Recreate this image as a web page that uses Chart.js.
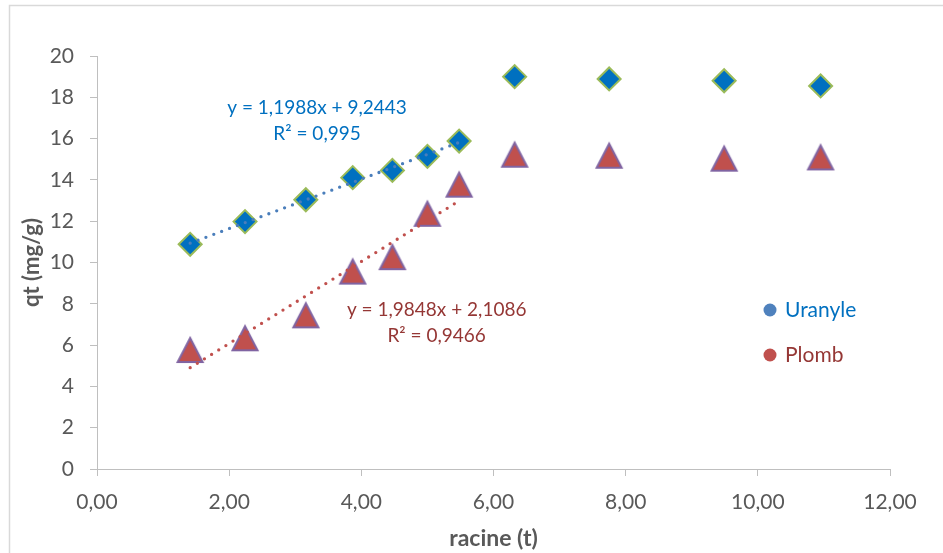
<!DOCTYPE html>
<html>
<head>
<meta charset="utf-8">
<script src="https://cdn.jsdelivr.net/npm/chart.js@4/dist/chart.umd.min.js"></script>
<style>
  html, body { margin: 0; padding: 0; background: #fff; overflow: hidden; }
  #wrap { position: relative; width: 943px; height: 553px; }
</style>
</head>
<body>
<div id="wrap"><canvas id="chart" width="943" height="553"></canvas></div>
<script>
// racine du temps (x) et qt mesuré
const racineT = [1.41, 2.24, 3.16, 3.87, 4.47, 5.00, 5.48, 6.32, 7.75, 9.49, 10.95];
const uranyle = [10.88, 11.98, 13.04, 14.11, 14.46, 15.14, 15.88, 19.0, 18.89, 18.8, 18.55];
const plomb = [5.76, 6.33, 7.44, 9.56, 10.26, 12.36, 13.77, 15.22, 15.17, 15.03, 15.09];

// droites de tendance (sur les 7 premiers points)
const trendUranyle = { a: 1.1988, b: 9.2443, label: ['y = 1,1988x + 9,2443', 'R² = 0,995'], at: [3.33, 17.48] };
const trendPlomb = { a: 1.9848, b: 2.1086, label: ['y = 1,9848x + 2,1086', 'R² = 0,9466'], at: [5.14, 7.70] };
const nTrend = 7;

const xTicks = [0, 2, 4, 6, 8, 10, 12];
const yTicks = [0, 2, 4, 6, 8, 10, 12, 14, 16, 18, 20];

const FONT = 'Lato, "Open Sans", sans-serif';
const GREY = '#595959';
const AXIS = '#BFBFBF';

function pts(xs, ys) {
    return xs.map((x, i) => ({ x: x, y: ys[i] }));
}

function trendPts(t) {
    const x0 = racineT[0], x1 = racineT[nTrend - 1];
    return [{ x: x0, y: t.a * x0 + t.b }, { x: x1, y: t.a * x1 + t.b }];
}

// marqueur triangle (fond rouge, bord violet)
function makeTriangle() {
    const c = document.createElement('canvas');
    c.width = 30; c.height = 30;
    const g = c.getContext('2d');
    g.beginPath();
    g.moveTo(15, 3);
    g.lineTo(27.5, 27);
    g.lineTo(2.5, 27);
    g.closePath();
    g.fillStyle = '#C0504D';
    g.fill();
    g.lineWidth = 2;
    g.strokeStyle = '#8064A2';
    g.stroke();
    return c;
}

// légende + équations + cadre
const extras = {
    id: 'extras',
    afterDraw(chart) {
        const ctx = chart.ctx;
        const xs = chart.scales.x, ys = chart.scales.y;
        const area = chart.chartArea;
        ctx.save();

        ctx.strokeStyle = '#D9D9D9';
        ctx.lineWidth = 1.5;
        ctx.strokeRect(9.5, 5.5, 960, 600);

        ctx.font = '19px ' + FONT;
        ctx.textAlign = 'center';
        ctx.textBaseline = 'middle';
        [[trendUranyle, '#0070C0'], [trendPlomb, '#953735']].forEach(([t, col]) => {
            const px = xs.getPixelForValue(t.at[0]);
            const py = ys.getPixelForValue(t.at[1]);
            ctx.fillStyle = col;
            t.label.forEach((s, i) => ctx.fillText(s, px, py + i * 25.5));
        });

        const legend = [
            ['Uranyle', '#4F81BD', '#0070C0'],
            ['Plomb', '#C0504D', '#953735']
        ];
        ctx.font = '21px ' + FONT;
        ctx.textAlign = 'left';
        legend.forEach(([name, dot, col], i) => {
            const ly = area.top + 254 + i * 45;
            const lx = area.right - 120;
            ctx.beginPath();
            ctx.arc(lx, ly, 6.5, 0, Math.PI * 2);
            ctx.fillStyle = dot;
            ctx.fill();
            ctx.fillStyle = col;
            ctx.fillText(name, lx + 15, ly);
        });
        ctx.restore();
    }
};

const commaFmt = v => v.toFixed(2).replace('.', ',');

new Chart(document.getElementById('chart'), {
    type: 'scatter',
    data: {
        datasets: [
            {
                label: 'tendance Uranyle',
                type: 'line',
                data: trendPts(trendUranyle),
                borderColor: '#4A7EBB',
                borderWidth: 3.3,
                borderDash: [0, 8.4],
                borderCapStyle: 'round',
                pointRadius: 0,
                order: 0
            },
            {
                label: 'tendance Plomb',
                type: 'line',
                data: trendPts(trendPlomb),
                borderColor: '#C0504D',
                borderWidth: 3.3,
                borderDash: [0, 8.4],
                borderCapStyle: 'round',
                pointRadius: 0,
                order: 0
            },
            {
                label: 'Uranyle',
                data: pts(racineT, uranyle),
                pointStyle: 'rectRot',
                pointRadius: 11.5,
                pointBackgroundColor: '#0070C0',
                pointBorderColor: '#9BBB59',
                pointBorderWidth: 2,
                order: 1
            },
            {
                label: 'Plomb',
                data: pts(racineT, plomb),
                pointStyle: makeTriangle(),
                pointRadius: 12,
                order: 1
            }
        ]
    },
    options: {
        responsive: false,
        animation: false,
        devicePixelRatio: 1,
        layout: { padding: { left: 0, right: 53, top: 56, bottom: 0 } },
        plugins: {
            legend: { display: false },
            tooltip: { enabled: false }
        },
        scales: {
            x: {
                type: 'linear',
                min: 0,
                max: 12,
                afterFit: s => { s.height = 84; },
                afterBuildTicks: s => { s.ticks = xTicks.map(v => ({ value: v })); },
                ticks: {
                    callback: commaFmt,
                    color: GREY,
                    font: { family: FONT, size: 21 },
                    padding: 14,
                    maxRotation: 0
                },
                grid: { drawOnChartArea: false, color: AXIS, tickLength: 7 },
                border: { color: AXIS, width: 1 },
                title: {
                    display: true,
                    text: 'racine (t)',
                    color: GREY,
                    font: { family: FONT, size: 23, weight: 'bold' },
                    padding: { top: 0, bottom: 1 }
                }
            },
            y: {
                type: 'linear',
                min: 0,
                max: 20,
                afterFit: s => { s.width = 97; },
                afterBuildTicks: s => { s.ticks = yTicks.map(v => ({ value: v })); },
                ticks: {
                    color: GREY,
                    font: { family: FONT, size: 21 },
                    padding: 16
                },
                grid: { drawOnChartArea: false, color: AXIS, tickLength: 7 },
                border: { color: AXIS, width: 1 },
                title: {
                    display: true,
                    text: 'qt (mg/g)',
                    color: GREY,
                    font: { family: FONT, size: 22, weight: 'bold' },
                    padding: { top: 19, bottom: 0 }
                }
            }
        }
    },
    plugins: [extras]
});
</script>
</body>
</html>
